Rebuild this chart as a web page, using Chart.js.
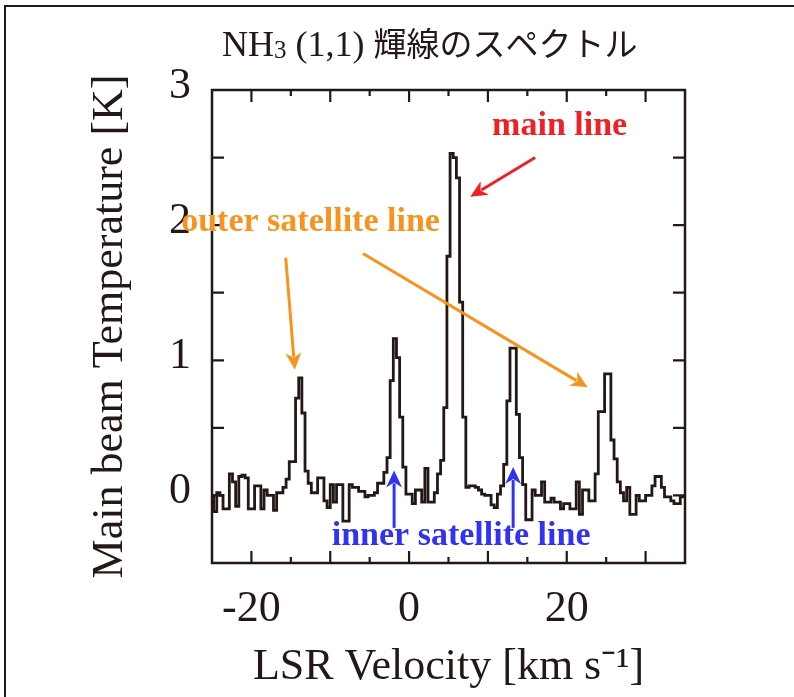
<!DOCTYPE html>
<html><head><meta charset="utf-8">
<script src="https://cdn.jsdelivr.net/npm/chart.js@4"></script>
<style>html,body{margin:0;padding:0;background:#fff}#wrap{position:relative;width:794px;height:697px}</style>
</head><body><div id="wrap"><canvas id="c" width="794" height="697"></canvas></div>
<script>
// ---- data ----
const velocity = [-25,-24.6,-24.2,-23.8,-23.4,-23,-22.6,-22.2,-21.8,-21.4,
-21,-20.6,-20.2,-19.8,-19.4,-19,-18.6,-18.2,-17.8,-17.4,
-17,-16.6,-16.2,-15.8,-15.4,-15,-14.6,-14.2,-13.8,-13.4,
-13,-12.6,-12.2,-11.8,-11.4,-11,-10.6,-10.2,-9.8,-9.4,
-9,-8.6,-8.2,-7.8,-7.4,-7,-6.6,-6.2,-5.8,-5.4,
-5,-4.6,-4.2,-3.8,-3.4,-3,-2.6,-2.2,-1.8,-1.4,
-1,-0.6,-0.2,0.2,0.6,1,1.4,1.8,2.2,2.6,
3,3.4,3.8,4.2,4.6,5,5.4,5.8,6.2,6.6,
7,7.4,7.8,8.2,8.6,9,9.4,9.8,10.2,10.6,
11,11.4,11.8,12.2,12.6,13,13.4,13.8,14.2,14.6,
15,15.4,15.8,16.2,16.6,17,17.4,17.8,18.2,18.6,
19,19.4,19.8,20.2,20.6,21,21.4,21.8,22.2,22.6,
23,23.4,23.8,24.2,24.6,25,25.4,25.8,26.2,26.6,
27,27.4,27.8,28.2,28.6,29,29.4,29.8,30.2,30.6,
31,31.4,31.8,32.2,32.6,33,33.4,33.8,34.2,34.6,
35];
const temperature = [0.0,-0.12,0.02,0.0,-0.1,-0.1,0.16,0.1,-0.08,0.14,
0.15,0.13,-0.1,-0.1,0.07,0.07,-0.1,0.04,0.0,0.0,
-0.11,0.02,0.02,0.06,0.12,0.25,0.25,0.72,0.87,0.61,
0.18,0.09,0.02,0.02,0.13,0.13,-0.04,-0.09,0.08,-0.05,
0.08,0.08,-0.19,-0.19,0.08,0.06,0.06,0.03,0.03,-0.01,
0.0,0.0,0.02,0.09,0.09,0.17,0.28,0.85,1.16,1.02,
0.58,0.21,0.01,0.01,-0.06,0.04,0.04,-0.05,0.2,-0.05,
-0.05,0.02,0.16,0.26,0.65,1.77,2.53,2.5,2.35,1.43,
0.58,0.06,0.07,0.07,0.06,0.04,0.01,0.0,0.0,-0.07,
-0.09,0.01,0.07,0.23,0.7,1.09,1.09,0.6,0.28,0.08,
-0.18,-0.18,0.04,0.0,0.0,0.1,-0.05,-0.05,-0.02,-0.05,
-0.05,-0.1,-0.06,-0.06,-0.1,-0.1,0.1,-0.14,0.04,0.04,
-0.04,-0.04,0.16,0.62,0.62,0.9,0.9,0.41,0.27,0.1,
0.02,-0.04,0.06,-0.14,-0.14,0.0,-0.04,-0.04,0.0,0.0,
0.07,0.14,0.14,0.06,-0.01,-0.01,-0.04,-0.06,-0.06,-0.01,
-0.01];
const xTickLabels = [-20, 0, 20];
const yTickLabels = [0, 1, 2, 3];
const titleParts = ['NH', '3', ' (1,1) ', '輝線のスペクトル'];
const xAxisTitle = 'LSR Velocity [km s⁻¹]';
const yAxisTitle = 'Main beam Temperature [K]';
const annotationTexts = ['main line', 'outer satellite line', 'inner satellite line'];
const annotationAnchors = [[19.1, 2.73], [-12.5, 2.02], [6.6, -0.30]];
const arrowFrom = [[16.0, 2.5], [-15.65, 1.76], [-5.85, 1.79], [-1.9, -0.24], [13.2, -0.24]];
const arrowTo = [[7.76, 2.21], [-14.5, 0.93], [22.65, 0.8], [-1.9, 0.185], [13.2, 0.21]];

// ---- styles ----
const INK = '#231815';
const RED = '#ec2227', ORANGE = '#f7931e', BLUE = '#3232f2';
const textColors = [RED, ORANGE, BLUE];
const arrowColors = [RED, ORANGE, ORANGE, BLUE, BLUE];
const serif = '"Liberation Serif", "Times New Roman", serif';
const near = (a, b) => Math.abs(a - b) < 1e-6;

const decor = {
  id: 'decor',
  afterDraw(chart) {
    const ctx = chart.ctx, a = chart.chartArea;
    const xs = chart.scales.x, ys = chart.scales.y;
    ctx.save();
    // outer border (left + top)
    ctx.strokeStyle = INK; ctx.lineWidth = 2;
    ctx.beginPath(); ctx.moveTo(5, 697); ctx.lineTo(5, 6); ctx.lineTo(794, 6); ctx.stroke();
    // frame
    ctx.lineWidth = 2.5;
    ctx.strokeRect(a.left, a.top, a.right - a.left, a.bottom - a.top);
    // inward ticks
    ctx.lineWidth = 2.2;
    ctx.beginPath();
    xs.ticks.forEach(t => {
      const px = xs.getPixelForValue(t.value);
      if (px <= a.left + 1 || px >= a.right - 1) return;
      const len = near(t.value % 10, 0) ? 12 : 6;
      ctx.moveTo(px, a.bottom); ctx.lineTo(px, a.bottom - len);
      ctx.moveTo(px, a.top); ctx.lineTo(px, a.top + len);
    });
    ys.ticks.forEach(t => {
      const py = ys.getPixelForValue(t.value);
      if (py <= a.top + 1 || py >= a.bottom - 1) return;
      ctx.moveTo(a.left, py); ctx.lineTo(a.left + 12, py);
      ctx.moveTo(a.right, py); ctx.lineTo(a.right - 12, py);
    });
    ctx.stroke();
    // title
    ctx.fillStyle = INK; ctx.textBaseline = 'alphabetic'; ctx.textAlign = 'left';
    let x = 222;
    ctx.font = '36px ' + serif; ctx.fillText(titleParts[0], x, 56); x += ctx.measureText(titleParts[0]).width;
    ctx.font = '25px ' + serif; ctx.fillText(titleParts[1], x, 58); x += ctx.measureText(titleParts[1]).width;
    ctx.font = '36px ' + serif; ctx.fillText(titleParts[2], x, 56); x += ctx.measureText(titleParts[2]).width;
    ctx.font = '33px "Noto Sans CJK JP"'; ctx.fillText(titleParts[3], x, 56);
    // annotation texts
    ctx.font = 'bold 34px ' + serif; ctx.textAlign = 'center'; ctx.textBaseline = 'middle';
    annotationTexts.forEach((s, i) => {
      ctx.fillStyle = textColors[i];
      ctx.fillText(s, xs.getPixelForValue(annotationAnchors[i][0]), ys.getPixelForValue(annotationAnchors[i][1]));
    });
    // arrows
    arrowFrom.forEach((f, i) => {
      const x1 = xs.getPixelForValue(f[0]), y1 = ys.getPixelForValue(f[1]);
      const x2 = xs.getPixelForValue(arrowTo[i][0]), y2 = ys.getPixelForValue(arrowTo[i][1]);
      const ang = Math.atan2(y2 - y1, x2 - x1), hl = 17, hw = 8;
      const bx = x2 - hl * Math.cos(ang), by = y2 - hl * Math.sin(ang);
      ctx.strokeStyle = arrowColors[i]; ctx.fillStyle = arrowColors[i]; ctx.lineWidth = 3;
      ctx.beginPath(); ctx.moveTo(x1, y1); ctx.lineTo(bx + 4 * Math.cos(ang), by + 4 * Math.sin(ang)); ctx.stroke();
      ctx.beginPath(); ctx.moveTo(x2, y2);
      ctx.lineTo(bx + hw * Math.sin(ang), by - hw * Math.cos(ang));
      ctx.lineTo(bx + 5 * Math.cos(ang), by + 5 * Math.sin(ang));
      ctx.lineTo(bx - hw * Math.sin(ang), by + hw * Math.cos(ang));
      ctx.closePath(); ctx.fill();
    });
    ctx.restore();
  }
};

new Chart(document.getElementById('c').getContext('2d'), {
  type: 'line',
  data: { datasets: [{
    data: velocity.map((v, i) => ({ x: v, y: temperature[i] })),
    stepped: 'middle', borderColor: INK, borderWidth: 2.8, pointRadius: 0, fill: false
  }] },
  options: {
    responsive: false, animation: false,
    layout: { padding: { top: 90, right: 109, bottom: 0, left: 0 } },
    plugins: { legend: { display: false }, tooltip: { enabled: false }, title: { display: false } },
    scales: {
      x: {
        type: 'linear', min: -25, max: 35, position: 'bottom',
        grid: { display: false, drawTicks: false }, border: { display: false },
        ticks: { stepSize: 5, autoSkip: false, maxRotation: 0, padding: 20, color: INK,
          font: { size: 44, family: serif },
          callback: v => xTickLabels.some(t => near(t, v)) ? String(v) : '' },
        title: { display: true, text: xAxisTitle, color: INK, font: { size: 44, family: serif }, padding: { top: 3, bottom: 3 } },
        afterFit: s => { s.height = 134; }
      },
      y: {
        type: 'linear', min: -0.5, max: 3,
        grid: { display: false, drawTicks: false }, border: { display: false },
        ticks: { stepSize: 0.5, autoSkip: false, padding: 21, labelOffset: -4, color: INK,
          font: { size: 44, family: serif },
          callback: v => yTickLabels.some(t => near(t, v)) ? String(v) : '' },
        title: { display: true, text: yAxisTitle, color: INK, font: { size: 44, family: serif }, padding: { top: 84, bottom: 84 } },
        afterFit: s => { s.width = 212; }
      }
    }
  },
  plugins: [decor]
});
</script></body></html>
